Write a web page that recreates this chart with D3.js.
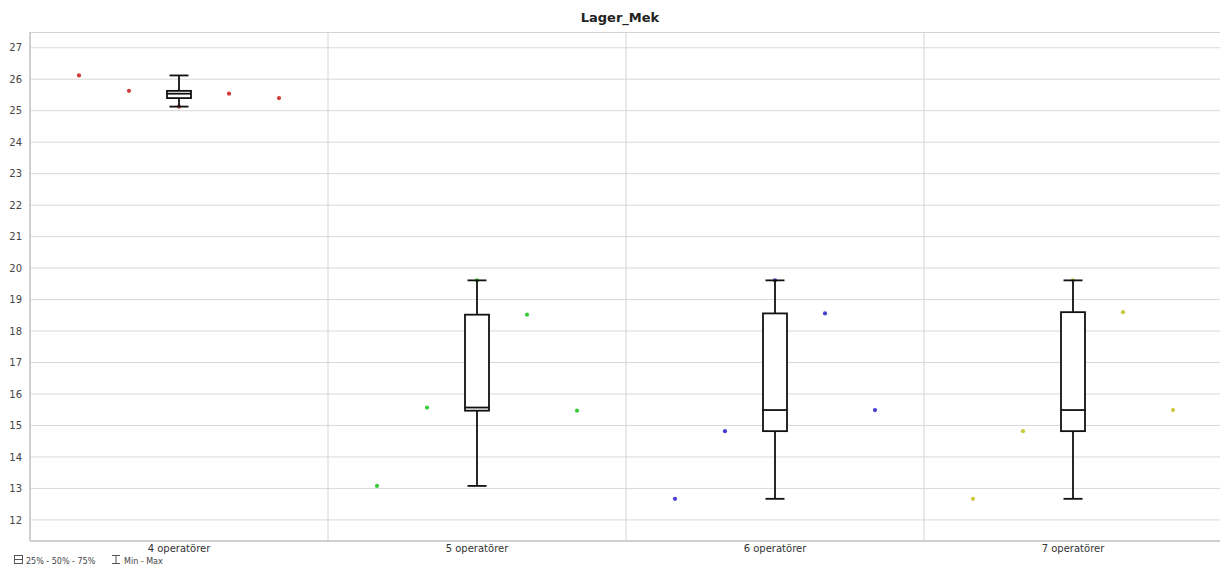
<!DOCTYPE html>
<html>
<head>
<meta charset="utf-8">
<script src="https://cdn.jsdelivr.net/npm/d3@7"></script>
<style>
  body { margin: 0; background: #fff; overflow: hidden; }
  text { font-family: "DejaVu Sans", Verdana, sans-serif; }
</style>
</head>
<body>
<div id="chart-area"></div>
<script>
// categories and values per category (5 runs each, in plotted order)
const categories = ["4 operatörer", "5 operatörer", "6 operatörer", "7 operatörer"]
const runs = [1, 2, 3, 4, 5]
const vals4 = [26.12, 25.63, 25.13, 25.54, 25.40]
const vals5 = [13.08, 15.57, 19.61, 18.52, 15.47]
const vals6 = [12.67, 14.82, 19.61, 18.56, 15.49]
const vals7 = [12.67, 14.82, 19.61, 18.60, 15.49]
const pointColors = ["#d23b3b", "#3dcb3d", "#4b3fd3", "#c9c83e"]
const yTicks = [12, 13, 14, 15, 16, 17, 18, 19, 20, 21, 22, 23, 24, 25, 26, 27]

const series = [vals4, vals5, vals6, vals7]

const W = 1220, H = 568
const MARGIN = { LEFT: 30, RIGHT: -2, TOP: 32, BOTTOM: 27 }
const WIDTH = W - MARGIN.LEFT - MARGIN.RIGHT
const HEIGHT = H - MARGIN.TOP - MARGIN.BOTTOM

const svg = d3.select("#chart-area").append("svg")
  .attr("width", W)
  .attr("height", H)

// title
svg.append("text")
  .attr("x", 620)
  .attr("y", 22)
  .attr("text-anchor", "middle")
  .attr("font-size", "13px")
  .attr("font-weight", "bold")
  .attr("fill", "#222")
  .text("Lager_Mek")

const g = svg.append("g")
  .attr("transform", `translate(${MARGIN.LEFT}, ${MARGIN.TOP})`)

// scales
const x = d3.scaleBand().domain(categories).range([0, WIDTH]).padding(0)
const xRun = d3.scalePoint().domain(runs).range([-100, 100])
const y = d3.scaleLinear().domain([11.33, 27.5]).range([HEIGHT, 0])

// horizontal grid
g.append("g")
  .selectAll("line")
  .data(yTicks)
  .join("line")
  .attr("x1", 0).attr("x2", WIDTH)
  .attr("y1", d => y(d)).attr("y2", d => y(d))
  .attr("stroke", "#d9d9d9")
  .attr("stroke-width", 1)

// vertical category separators
g.append("g")
  .selectAll("line")
  .data(categories.slice(1))
  .join("line")
  .attr("x1", d => x(d)).attr("x2", d => x(d))
  .attr("y1", 0).attr("y2", HEIGHT)
  .attr("stroke", "#d4d4d4")
  .attr("stroke-width", 1)

// frame: top, left, bottom
g.append("line").attr("x1", 0).attr("x2", WIDTH).attr("y1", 0.5).attr("y2", 0.5)
  .attr("stroke", "#d4d4d4").attr("stroke-width", 1)
g.append("line").attr("x1", 0).attr("x2", 0).attr("y1", 0).attr("y2", HEIGHT)
  .attr("stroke", "#cfcfcf").attr("stroke-width", 2)
g.append("line").attr("x1", 0).attr("x2", WIDTH).attr("y1", HEIGHT).attr("y2", HEIGHT)
  .attr("stroke", "#cfcfcf").attr("stroke-width", 2)

// y axis
const yAxisCall = d3.axisLeft(y).tickValues(yTicks).tickSize(0).tickPadding(8)
const yAxis = g.append("g").call(yAxisCall)
yAxis.select(".domain").remove()
yAxis.selectAll("text")
  .attr("font-size", "10px")
  .attr("fill", "#444")
  .style("font-family", "'DejaVu Sans', Verdana, sans-serif")

// x axis labels
const xAxisCall = d3.axisBottom(x).tickSize(0).tickPadding(4)
const xAxis = g.append("g")
  .attr("transform", `translate(0, ${HEIGHT})`)
  .call(xAxisCall)
xAxis.select(".domain").remove()
xAxis.selectAll("text")
  .attr("font-size", "10px")
  .attr("fill", "#333")
  .style("font-family", "'DejaVu Sans', Verdana, sans-serif")

// points
categories.forEach((cat, ci) => {
  const cx = x(cat) + x.bandwidth() / 2
  g.append("g")
    .selectAll("circle")
    .data(series[ci])
    .join("circle")
    .attr("cx", (d, i) => cx + xRun(runs[i]))
    .attr("cy", d => y(d))
    .attr("r", 2.1)
    .attr("fill", pointColors[ci])
})

// box plots
const BOX_W = 24, CAP_W = 19
categories.forEach((cat, ci) => {
  const sorted = series[ci].slice().sort(d3.ascending)
  const q1 = d3.quantile(sorted, 0.25)
  const med = d3.quantile(sorted, 0.5)
  const q3 = d3.quantile(sorted, 0.75)
  const mn = sorted[0], mx = sorted[sorted.length - 1]
  const cx = x(cat) + x.bandwidth() / 2
  const bg = g.append("g")
    .attr("stroke", "#111")
    .attr("stroke-width", 1.8)
    .attr("fill", "none")

  bg.append("line").attr("x1", cx).attr("x2", cx).attr("y1", y(mx)).attr("y2", y(q3))
  bg.append("line").attr("x1", cx).attr("x2", cx).attr("y1", y(q1)).attr("y2", y(mn))
  bg.append("line").attr("x1", cx - CAP_W / 2).attr("x2", cx + CAP_W / 2).attr("y1", y(mx)).attr("y2", y(mx))
  bg.append("line").attr("x1", cx - CAP_W / 2).attr("x2", cx + CAP_W / 2).attr("y1", y(mn)).attr("y2", y(mn))
  bg.append("rect")
    .attr("x", cx - BOX_W / 2).attr("width", BOX_W)
    .attr("y", y(q3)).attr("height", y(q1) - y(q3))
    .attr("fill", "#fff")
  bg.append("line").attr("x1", cx - BOX_W / 2).attr("x2", cx + BOX_W / 2).attr("y1", y(med)).attr("y2", y(med))
})

// legend
const legend = svg.append("g").attr("transform", "translate(0, 562)")
legend.append("rect").attr("x", 14.5).attr("y", -6.5).attr("width", 8).attr("height", 8)
  .attr("fill", "none").attr("stroke", "#555").attr("stroke-width", 1)
legend.append("line").attr("x1", 14.5).attr("x2", 22.5).attr("y1", -2.5).attr("y2", -2.5)
  .attr("stroke", "#555").attr("stroke-width", 1)
legend.append("text").attr("x", 26).attr("y", 1.5)
  .attr("font-size", "8px").attr("fill", "#444").text("25% - 50% - 75%")
legend.append("line").attr("x1", 112).attr("x2", 120).attr("y1", -6.5).attr("y2", -6.5)
  .attr("stroke", "#555")
legend.append("line").attr("x1", 112).attr("x2", 120).attr("y1", 1.5).attr("y2", 1.5)
  .attr("stroke", "#555")
legend.append("line").attr("x1", 116).attr("x2", 116).attr("y1", -6.5).attr("y2", 1.5)
  .attr("stroke", "#555")
legend.append("text").attr("x", 124).attr("y", 1.5)
  .attr("font-size", "8px").attr("fill", "#444").text("Min - Max")
</script>
</body>
</html>
